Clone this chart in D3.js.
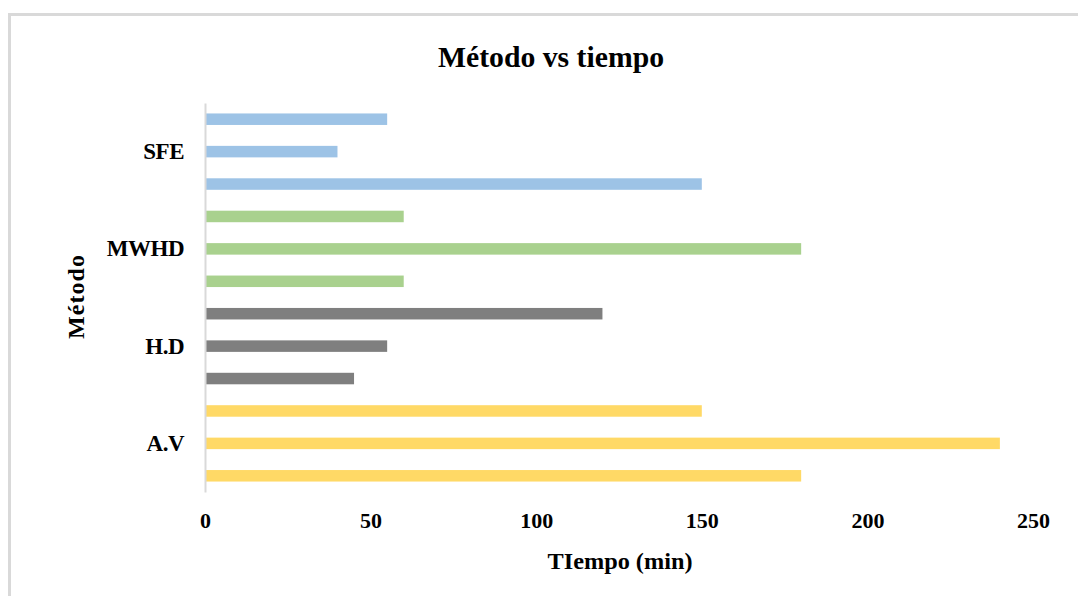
<!DOCTYPE html>
<html>
<head>
<meta charset="utf-8">
<script src="https://cdn.jsdelivr.net/npm/d3@7/dist/d3.min.js"></script>
<style>
  html, body { margin: 0; padding: 0; background: #ffffff; }
  svg { display: block; }
  text { font-family: "Liberation Serif", "Times New Roman", serif; font-weight: bold; fill: #000; }
</style>
</head>
<body>
<svg id="chart" width="1078" height="596"></svg>
<script>
// Methods, bottom to top
const methods = ["A.V", "H.D", "MWHD", "SFE"];
// Times (min) for each method, three runs listed bottom to top
const avTimes = [180, 240, 150];
const hdTimes = [45, 55, 120];
const mwhdTimes = [60, 180, 60];
const sfeTimes = [150, 40, 55];
const methodColors = ["#FFD966", "#7F7F7F", "#A9D18E", "#9DC3E6"];
const xTicks = [0, 50, 100, 150, 200, 250];

const timesByMethod = [avTimes, hdTimes, mwhdTimes, sfeTimes];
const rows = [];
methods.forEach((m, i) => {
  timesByMethod[i].forEach((v, j) => rows.push({ method: m, run: j, value: v, color: methodColors[i] }));
});

const svg = d3.select("#chart");
const W = 1078, H = 596;
const plot = { left: 205, right: 1033, top: 103, bottom: 492 };

// chart frame
svg.append("rect")
  .attr("x", 9.5).attr("y", 14.5)
  .attr("width", W + 20).attr("height", H + 20)
  .attr("fill", "none").attr("stroke", "#d9d9d9").attr("stroke-width", 3);

const x = d3.scaleLinear().domain([0, 250]).range([plot.left, plot.right]);

// outer band per method (first method at the bottom)
const yOuter = d3.scaleBand().domain(methods.slice().reverse())
  .range([plot.top, plot.bottom]).paddingInner(0).paddingOuter(0);
// inner band per run within a method (first run at the bottom)
const yInner = d3.scaleBand().domain([2, 1, 0])
  .range([0, yOuter.bandwidth()]).paddingInner(0.645).paddingOuter(0.3225);

// bars
svg.append("g").selectAll("rect").data(rows).join("rect")
  .attr("x", x(0))
  .attr("y", d => yOuter(d.method) + yInner(d.run))
  .attr("width", d => x(d.value) - x(0))
  .attr("height", yInner.bandwidth())
  .attr("fill", d => d.color);

// x axis labels (no axis line)
const xAxis = d3.axisBottom(x).tickValues(xTicks).tickSize(0).tickPadding(0);
const gx = svg.append("g").attr("transform", `translate(0,${plot.bottom + 20})`).call(xAxis);
gx.select(".domain").remove();
gx.selectAll("text")
  .attr("dy", "0.71em")
  .style("font-family", "'Liberation Serif', serif")
  .style("font-weight", "bold")
  .style("font-size", "22px")
  .attr("fill", "#000");

// y axis: line and method labels
const yAxis = d3.axisLeft(yOuter).tickSize(0).tickPadding(21);
const gy = svg.append("g").attr("transform", `translate(${plot.left},0)`).call(yAxis);
gy.select(".domain").attr("stroke", "#d9d9d9").attr("stroke-width", 2);
gy.selectAll("text")
  .style("font-family", "'Liberation Serif', serif")
  .style("font-weight", "bold")
  .style("font-size", "23px")
  .style("letter-spacing", "-0.5px")
  .attr("fill", "#000");

// title
svg.append("text")
  .attr("x", 551).attr("y", 67)
  .attr("text-anchor", "middle")
  .style("font-size", "30px")
  .attr("textLength", 226).attr("lengthAdjust", "spacingAndGlyphs")
  .text("Método vs tiempo");

// axis titles
svg.append("text")
  .attr("x", 620).attr("y", 569)
  .attr("text-anchor", "middle")
  .style("font-size", "24px")
  .attr("textLength", 145).attr("lengthAdjust", "spacingAndGlyphs")
  .text("TIempo (min)");

svg.append("text")
  .attr("transform", "translate(84,297) rotate(-90)")
  .attr("text-anchor", "middle")
  .style("font-size", "24px")
  .attr("textLength", 84).attr("lengthAdjust", "spacing")
  .text("Método");
</script>
</body>
</html>
